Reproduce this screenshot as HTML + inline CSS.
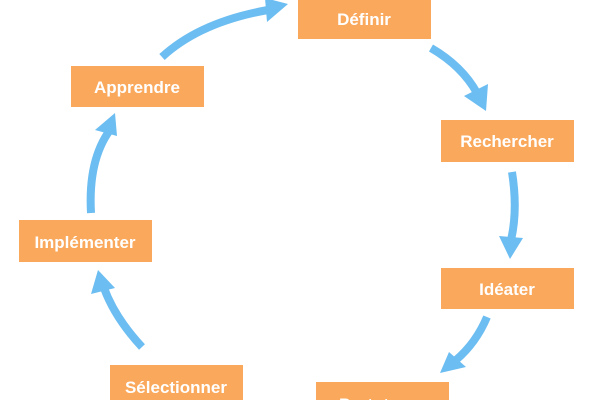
<!DOCTYPE html>
<html><head><style>
html,body{margin:0;padding:0;background:#fff;}
svg{display:block}
text{font-family:"Liberation Sans",sans-serif;font-size:17px;font-weight:bold;fill:#fff;text-anchor:middle}
</style></head><body>
<svg width="600" height="400" viewBox="0 0 600 400">
<g fill="#f9a85c">
<rect x="298" y="0" width="133" height="39"/>
<rect x="71" y="66" width="133" height="41"/>
<rect x="441" y="120" width="133" height="42"/>
<rect x="441" y="268" width="133" height="41"/>
<rect x="19" y="220" width="133" height="42"/>
<rect x="110" y="365" width="133" height="40"/>
<rect x="316" y="382" width="133" height="30"/>
</g>
<g>
<text x="364" y="25">Définir</text>
<text x="137" y="93">Apprendre</text>
<text x="507" y="147">Rechercher</text>
<text x="507" y="295">Idéater</text>
<text x="85" y="248">Implémenter</text>
<text x="176" y="393">Sélectionner</text>
<text x="382" y="410">Prototyper</text>
</g>
<g fill="none" stroke="#6cbdf1" stroke-width="8">
<path d="M162 57 Q200 22 268 10"/>
<path d="M431 48 Q462 66 477 93"/>
<path d="M512 172 Q518 210 511 240"/>
<path d="M487 317 Q476 343 456 360"/>
<path d="M142 347 Q115 318 104 288"/>
<path d="M91 213 Q88 160 110 130"/>
</g>
<g fill="#6cbdf1">
<polygon points="288,4 265,-2 267,22"/>
<polygon points="486,111 464,96 488,84"/>
<polygon points="510,259 499,236 523,238"/>
<polygon points="440,373 449,352 466,367"/>
<polygon points="98,270 91,294 115,288"/>
<polygon points="115,113 95,130 117,136"/>
</g>
</svg>
</body></html>
